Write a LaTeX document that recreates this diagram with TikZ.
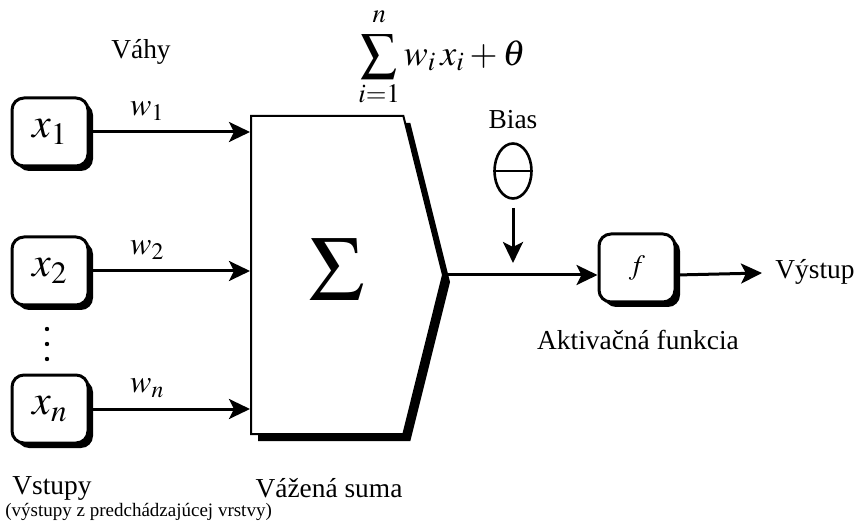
\documentclass[tikz,border=0pt]{standalone}
\usepackage{mathptmx}
\usepackage{fontspec}
\setmainfont{Liberation Serif}
\usetikzlibrary{arrows.meta,positioning,shapes.geometric,shapes.symbols,shadows}

\begin{document}
\begin{tikzpicture}[x=0.5pt,y=-0.5pt,
  inbox/.style={rectangle,rounded corners=6pt,draw,line width=1.5pt,fill=white,minimum width=38pt,minimum height=34pt,inner sep=0pt,
    drop shadow={shadow xshift=2.5pt,shadow yshift=-2.5pt,fill=black,opacity=1}},
  sumblock/.style={signal,signal to=east,signal pointer angle=152,draw,line width=1pt,fill=white,minimum width=96pt,minimum height=159pt,inner sep=0pt,
    drop shadow={shadow xshift=3.5pt,shadow yshift=-3.5pt,fill=black,opacity=1}},
  bias/.style={ellipse,draw,line width=1.3pt,minimum width=18.5pt,minimum height=27.5pt,inner sep=0pt},
  lbl/.style={font=\fontsize{13.7}{16}\selectfont,inner sep=0pt},
  wlbl/.style={font=\fontsize{16}{18}\selectfont,inner sep=0pt,pos=0.36,above=5pt},
  arrow/.style={-{Stealth[length=10.5pt,width=10pt,inset=2.5pt]},line width=1.5pt}]
  \useasboundingbox (0,0) rectangle (861,523);
  % vstupy
  \node[inbox,font=\fontsize{21}{24}\selectfont] (x1) at (50,132) {$x_1$};
  \node[inbox,font=\fontsize{21}{24}\selectfont] (x2) at (50,271) {$x_2$};
  \node[inbox,font=\fontsize{21}{24}\selectfont] (xn) at (50,409) {$x_n$};
  \foreach \y in {329,344,359} \fill (47,\y) circle (1.1pt);
  % vazena suma
  \node[sumblock,anchor=west] (sum) at (250,275) {};
  \node[font=\fontsize{46}{50}\selectfont] (sigma) at (337,270) {$\Sigma$};
  \draw[arrow] (x1) -- (x1 -| sum.west) node[wlbl] (w1) {$w_1$};
  \draw[arrow] (x2) -- (x2 -| sum.west) node[wlbl] (w2) {$w_2$};
  \draw[arrow] (xn) -- (xn -| sum.west) node[wlbl] (wn) {$w_n$};
  % bias a aktivacna funkcia
  \node[inbox,font=\fontsize{14}{16}\selectfont] (f) at (637,268) {$f$};
  \node[bias] (theta) at (513,171) {};
  \draw[line width=1.3pt] (theta.west) -- (theta.east);
  \coordinate (biasin) at (513,263);
  \coordinate (out) at (762,273);
  \draw[arrow,shorten <=4pt] (theta.south) -- (biasin);
  \draw[arrow] (sum.east) -- (sum.east -| f.west);
  \draw[arrow] (f.east |- sum.east) -- (out);
  % popisy
  \node[lbl] (vahy) at (141,52) {Váhy};
  \node[lbl] (biastext) at (513,120) {Bias};
  \node[lbl,anchor=west] (vystup) at (775,272) {Výstup};
  \node[lbl] (aktiv) at (638,340) {Aktivačná funkcia};
  \node[lbl,anchor=west] (vstupy) at (12,488) {Vstupy};
  \node[lbl,anchor=west,font=\fontsize{9.5}{11}\selectfont] (pred) at (5,512) {(výstupy z predchádzajúcej vrstvy)};
  \node[lbl] (vsuma) at (329,488) {Vážená suma};
  \node[font=\fontsize{18}{21}\selectfont,inner sep=0pt] (formula) at (442,57) {$\displaystyle\sum_{i=1}^{\raisebox{2pt}{$\scriptstyle n$}} w_i\,x_i+\theta$};
\end{tikzpicture}
\end{document}
